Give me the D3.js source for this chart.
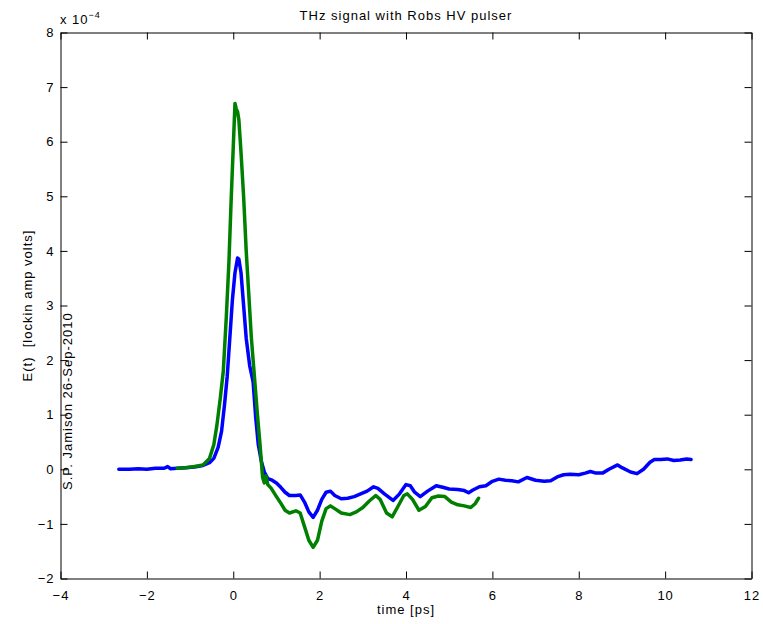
<!DOCTYPE html>
<html>
<head>
<meta charset="utf-8">
<script src="https://cdn.jsdelivr.net/npm/d3@7"></script>
<style>
  html, body { margin: 0; padding: 0; background: #fff; }
  svg text { font-family: "Liberation Sans", Arial, Helvetica, sans-serif; font-size: 13px; letter-spacing: 1px; fill: #000; white-space: pre; }
</style>
</head>
<body>
<svg id="chart" width="763" height="624"></svg>
<script>
// ---- data (E(t) in units of 1e-4 lockin amp volts) ----
const titleText = "THz signal with Robs HV pulser";
const xLabel = "time [ps]";
const yLabel = "E(t)  [lockin amp volts]";
const noteText = "S.P. Jamison 26-Sep-2010";
const xTicks = [-4, -2, 0, 2, 4, 6, 8, 10, 12];
const yTicks = [-2, -1, 0, 1, 2, 3, 4, 5, 6, 7, 8];

const blueTime = [-2.65,-2.4,-2.2,-2.0,-1.8,-1.6,-1.52,-1.45,-1.3,-1.1,-0.9,-0.7,-0.55,-0.45,-0.35,-0.27,-0.2,-0.14,-0.08,-0.02,0.04,0.1,0.13,0.18,0.24,0.3,0.38,0.46,0.52,0.58,0.65,0.72,0.8,0.9,1.0,1.1,1.2,1.3,1.45,1.55,1.65,1.75,1.85,1.95,2.05,2.15,2.25,2.35,2.5,2.65,2.8,2.95,3.1,3.25,3.35,3.5,3.7,3.85,4.0,4.1,4.2,4.33,4.5,4.7,4.85,5.0,5.2,5.35,5.45,5.55,5.7,5.85,6.0,6.15,6.3,6.45,6.6,6.8,7.0,7.2,7.35,7.5,7.65,7.8,8.0,8.15,8.27,8.4,8.55,8.7,8.9,9.0,9.2,9.35,9.5,9.65,9.75,9.9,10.05,10.2,10.35,10.5,10.6];
const blueE = [0.00,0.00,0.01,0.00,0.02,0.02,0.05,0.01,0.02,0.03,0.04,0.07,0.12,0.2,0.4,0.7,1.2,1.7,2.4,3.1,3.6,3.87,3.85,3.6,3.0,2.4,1.9,1.6,0.95,0.45,0.15,-0.05,-0.17,-0.2,-0.25,-0.33,-0.42,-0.48,-0.48,-0.47,-0.6,-0.78,-0.88,-0.75,-0.55,-0.42,-0.4,-0.48,-0.54,-0.53,-0.5,-0.45,-0.4,-0.32,-0.35,-0.45,-0.57,-0.45,-0.28,-0.3,-0.42,-0.5,-0.4,-0.3,-0.33,-0.36,-0.37,-0.39,-0.43,-0.38,-0.32,-0.3,-0.22,-0.18,-0.2,-0.21,-0.23,-0.15,-0.2,-0.22,-0.21,-0.14,-0.1,-0.09,-0.1,-0.07,-0.04,-0.07,-0.07,0.0,0.08,0.03,-0.05,-0.08,0.0,0.13,0.18,0.18,0.19,0.16,0.17,0.19,0.18];

const greenTime = [-1.3,-1.1,-0.9,-0.7,-0.55,-0.45,-0.38,-0.3,-0.23,-0.16,-0.1,-0.05,0.0,0.04,0.07,0.1,0.13,0.18,0.24,0.3,0.36,0.42,0.5,0.56,0.62,0.68,0.72,0.76,0.8,0.88,1.0,1.1,1.2,1.3,1.45,1.55,1.65,1.75,1.85,1.95,2.05,2.15,2.25,2.35,2.5,2.7,2.85,3.0,3.15,3.3,3.4,3.55,3.68,3.8,3.95,4.03,4.15,4.3,4.45,4.6,4.75,4.9,5.05,5.2,5.35,5.5,5.6,5.68];
const greenE = [0.02,0.03,0.05,0.08,0.2,0.45,0.8,1.3,1.8,2.8,3.8,4.9,5.9,6.7,6.6,6.55,6.4,5.8,5.0,4.0,3.2,2.4,1.6,1.0,0.45,-0.15,-0.25,-0.12,-0.28,-0.35,-0.5,-0.62,-0.75,-0.8,-0.76,-0.8,-1.05,-1.3,-1.43,-1.3,-0.95,-0.72,-0.67,-0.72,-0.8,-0.83,-0.78,-0.7,-0.58,-0.48,-0.55,-0.8,-0.87,-0.7,-0.48,-0.45,-0.55,-0.75,-0.68,-0.52,-0.49,-0.5,-0.6,-0.65,-0.67,-0.7,-0.63,-0.53];

// ---- layout ----
const svg = d3.select("#chart");
const L = 60.5, R = 751.5, T = 32.5, B = 578.5;
const x = d3.scaleLinear().domain([-4, 12]).range([L, R]);
const y = d3.scaleLinear().domain([-2, 8]).range([B, T]);
const tk = 7;
const fmt = d => d3.format("d")(d).replace("-", "\u2212");

svg.append("rect").attr("x", L).attr("y", T).attr("width", R - L).attr("height", B - T).attr("fill", "#fff");

// note text (rotated, inside left of plot)
svg.append("text")
  .attr("transform", `translate(72,490) rotate(-90)`)
  .attr("text-anchor", "start")
  .attr("fill", "#000")
  .text(noteText);

// lines
const line = d3.line().x(d => x(d[0])).y(d => y(d[1]));
const blue = blueTime.map((t, i) => [t, blueE[i]]);
const green = greenTime.map((t, i) => [t, greenE[i]]);
svg.append("path").datum(blue).attr("d", line).attr("fill", "none")
  .attr("stroke", "#0000ff").attr("stroke-width", 3.5).attr("stroke-linejoin", "round").attr("stroke-linecap", "round");
svg.append("path").datum(green).attr("d", line).attr("fill", "none")
  .attr("stroke", "#008000").attr("stroke-width", 3.5).attr("stroke-linejoin", "round").attr("stroke-linecap", "round");

// axes
const gx = svg.append("g").attr("transform", `translate(0,${B})`)
  .call(d3.axisBottom(x).tickValues(xTicks).tickFormat(fmt).tickSizeInner(-tk).tickSizeOuter(0).tickPadding(12));
const gxt = svg.append("g").attr("transform", `translate(0,${T})`)
  .call(d3.axisTop(x).tickValues(xTicks).tickFormat("").tickSizeInner(-tk).tickSizeOuter(0));
const gy = svg.append("g").attr("transform", `translate(${L},0)`)
  .call(d3.axisLeft(y).tickValues(yTicks).tickFormat(fmt).tickSizeInner(-tk).tickSizeOuter(0).tickPadding(6));
const gyr = svg.append("g").attr("transform", `translate(${R},0)`)
  .call(d3.axisRight(y).tickValues(yTicks).tickFormat("").tickSizeInner(-tk).tickSizeOuter(0));
[gx, gxt, gy, gyr].forEach(g => {
  g.selectAll(".domain").attr("stroke", "#000").attr("stroke-width", 1);
  g.selectAll(".tick line").attr("stroke", "#000");
  g.selectAll("text").attr("font-family", null).attr("font-size", null).attr("fill", "#000");
});

// titles
svg.append("text").attr("x", (L + R) / 2).attr("y", 20).attr("text-anchor", "middle").text(titleText);
svg.append("text").attr("x", (L + R) / 2).attr("y", 614).attr("text-anchor", "middle").text(xLabel);
svg.append("text").attr("transform", `translate(32,${(T + B) / 2}) rotate(-90)`).attr("text-anchor", "middle").text(yLabel);

// exponent label
const ex = svg.append("text").attr("x", 60).attr("y", 24);
ex.append("tspan").text("x 10");
ex.append("tspan").attr("dy", -6).attr("font-size", "9px").text("\u22124");
</script>
</body>
</html>
